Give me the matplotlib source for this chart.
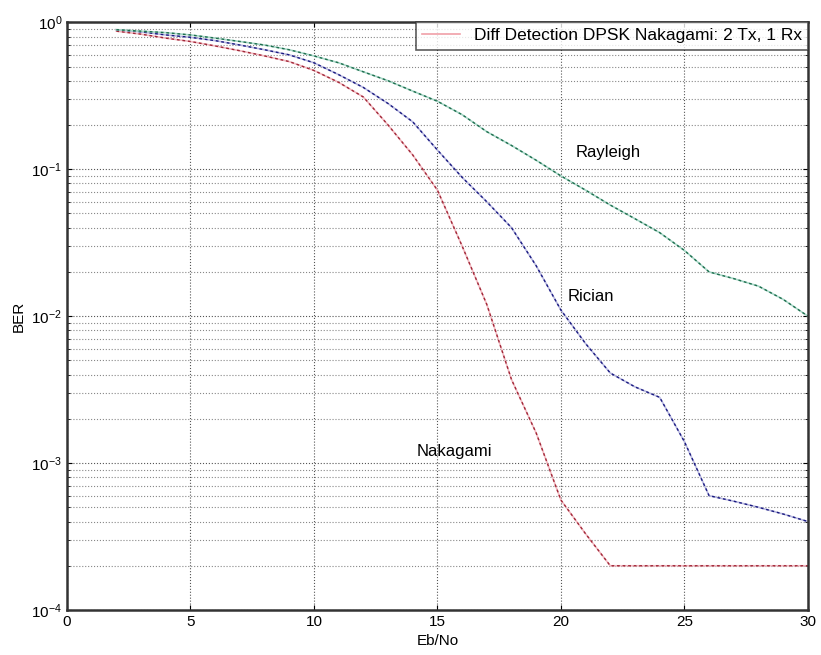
import matplotlib
matplotlib.use('Agg')
import matplotlib.pyplot as plt

plt.rcParams['font.family'] = ['Liberation Sans', 'DejaVu Sans']

# Eb/No points (dB)
ebno = list(range(2, 31))

# BER
ber_rayleigh = [0.89, 0.87, 0.85, 0.82, 0.78, 0.74, 0.70, 0.65, 0.59, 0.53,
                0.46, 0.40, 0.34, 0.29, 0.235, 0.18, 0.145, 0.115, 0.09, 0.072,
                0.057, 0.046, 0.037, 0.028, 0.020, 0.018, 0.016, 0.013, 0.010]
ber_rician = [0.89, 0.86, 0.82, 0.79, 0.75, 0.70, 0.65, 0.60, 0.53, 0.44,
              0.36, 0.28, 0.21, 0.135, 0.088, 0.06, 0.04, 0.022, 0.011, 0.0065,
              0.0041, 0.0033, 0.0028, 0.0014, 0.0006, 0.00055, 0.0005, 0.00045, 0.0004]
ber_nakagami = [0.87, 0.83, 0.78, 0.74, 0.69, 0.64, 0.59, 0.54, 0.47, 0.39,
                0.31, 0.20, 0.125, 0.072, 0.03, 0.012, 0.0037, 0.0016, 0.00056, 0.00033,
                0.0002, 0.0002, 0.0002, 0.0002, 0.0002, 0.0002, 0.0002, 0.0002, 0.0002]

legend_label = 'Diff Detection DPSK Nakagami: 2 Tx, 1 Rx'

fig = plt.figure(figsize=(8.21, 6.55), dpi=100)
ax = fig.add_axes([0.0816, 0.0687, 0.9024, 0.8973])

# each curve: pale solid line with darker dashes on top
ax.semilogy(ebno, ber_nakagami, color='#f2b8c0', lw=1.2, label=legend_label)
ax.semilogy(ebno, ber_nakagami, color='#a02838', lw=1.0, ls=(0, (2, 2)))
ax.semilogy(ebno, ber_rician, color='#b8b8e0', lw=1.2)
ax.semilogy(ebno, ber_rician, color='#1a1a80', lw=1.0, ls=(0, (2, 2)))
ax.semilogy(ebno, ber_rayleigh, color='#a8d8c8', lw=1.2)
ax.semilogy(ebno, ber_rayleigh, color='#1f6e4e', lw=1.0, ls=(0, (2, 2)))

ax.set_xlim(0, 30)
ax.set_ylim(1e-4, 1)
ax.set_xticks([0, 5, 10, 15, 20, 25, 30])

ax.grid(True, which='major', ls=':', color='#555555', lw=0.8)
ax.grid(True, which='minor', axis='y', ls=':', color='#888888', lw=0.8)
ax.tick_params(which='both', direction='in', top=True, right=True, labelsize=11)
for s in ax.spines.values():
    s.set_color('#333333')
    s.set_linewidth(1.8)

ax.text(21.9, 0.13, 'Rayleigh', fontsize=12, ha='center', va='center')
ax.text(21.2, 0.0135, 'Rician', fontsize=12, ha='center', va='center')
ax.text(15.7, 0.0012, 'Nakagami', fontsize=12, ha='center', va='center')

ax.set_xlabel('Eb/No', fontsize=11)
ax.set_ylabel('BER', fontsize=11)

leg = ax.legend(loc='upper right', fontsize=12.5, fancybox=False, borderaxespad=0.0,
                handlelength=2.2, borderpad=0.35)
leg.get_frame().set_edgecolor('#333333')
leg.get_frame().set_linewidth(1.2)
leg.get_lines()[0].set_color('#f0a0a8')

fig.savefig('out.png', dpi=100)
